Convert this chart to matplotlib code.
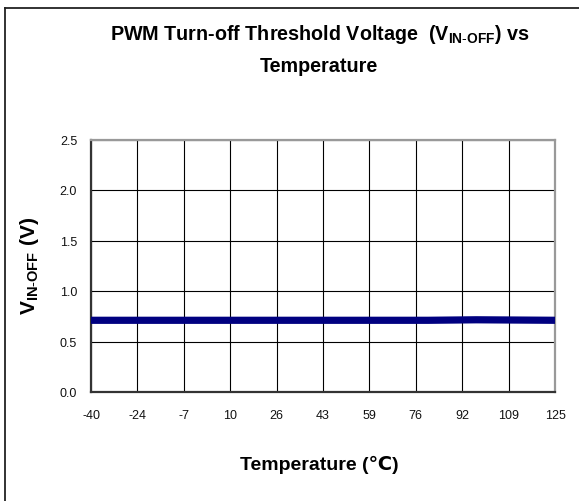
import matplotlib
matplotlib.use("Agg")
import matplotlib.pyplot as plt
import numpy as np
from matplotlib.lines import Line2D

plt.rcParams['font.family'] = ['Liberation Sans', 'DejaVu Sans']
plt.rcParams['mathtext.fontset'] = 'custom'
plt.rcParams['mathtext.rm'] = 'Liberation Sans'
plt.rcParams['mathtext.bf'] = 'Liberation Sans:bold'
plt.rcParams['mathtext.it'] = 'Liberation Sans:italic'

# data
temps = [-40, -20, -10, 0, 25, 70, 80, 97, 125]
v_off = [0.71, 0.71, 0.71, 0.71, 0.71, 0.71, 0.71, 0.715, 0.71]

x_tick_labels = ['-40', '-24', '-7', '10', '26', '43', '59', '76', '92', '109', '125']
y_ticks = [0.0, 0.5, 1.0, 1.5, 2.0, 2.5]

W, H = 579, 502
fig = plt.figure(figsize=(W / 100, H / 100), dpi=100)
ax = fig.add_axes([91 / W, 1 - 393 / H, 464 / W, 252.5 / H])

ax.plot(temps, v_off, color='#000080', lw=5.2, solid_capstyle='butt', zorder=3)

ax.set_xlim(-40, 125)
ax.set_ylim(0, 2.5)
ax.set_xticks(np.linspace(-40, 125, len(x_tick_labels)))
ax.set_xticklabels(x_tick_labels)
ax.set_yticks(y_ticks)
ax.set_yticklabels([f'{v:.1f}' for v in y_ticks])
ax.tick_params(length=0, labelsize=9, colors='#111111')
ax.tick_params(axis='x', pad=12)
ax.tick_params(axis='y', pad=10)
ax.grid(True, color='black', lw=0.8)

for side in ['top', 'right']:
    ax.spines[side].set_color('#999999')
    ax.spines[side].set_linewidth(1.6)
for side in ['left', 'bottom']:
    ax.spines[side].set_color('#333333')
    ax.spines[side].set_linewidth(1.6)

# title, two lines
fig.text(320 / W, 1 - 40 / H, r'PWM Turn-off Threshold Voltage  (V$_{\mathbf{IN\text{-}OFF}}$) vs',
         ha='center', va='baseline', fontsize=14.2, fontweight='bold')
fig.text(319 / W, 1 - 72.5 / H, 'Temperature', ha='center', va='baseline', fontsize=14.2, fontweight='bold')

fig.text(319 / W, 1 - 465 / H, 'Temperature (℃)', ha='center', va='center', fontsize=14,
         fontweight='bold', family=['Liberation Sans', 'DejaVu Sans'])
fig.text(30 / W, 1 - 266 / H, r'V$_{\mathbf{IN\text{-}OFF}}$ (V)', ha='center', va='center',
         rotation=90, fontsize=15, fontweight='bold')

# outer frame (cut off at right and bottom)
fig.add_artist(Line2D([5 / W, 5 / W], [1 - 9 / H, 0], transform=fig.transFigure, color='#222222', lw=1.3))
fig.add_artist(Line2D([5 / W, 1], [1 - 9 / H, 1 - 9 / H], transform=fig.transFigure, color='#222222', lw=1.3))

fig.savefig('out.png', dpi=100)
